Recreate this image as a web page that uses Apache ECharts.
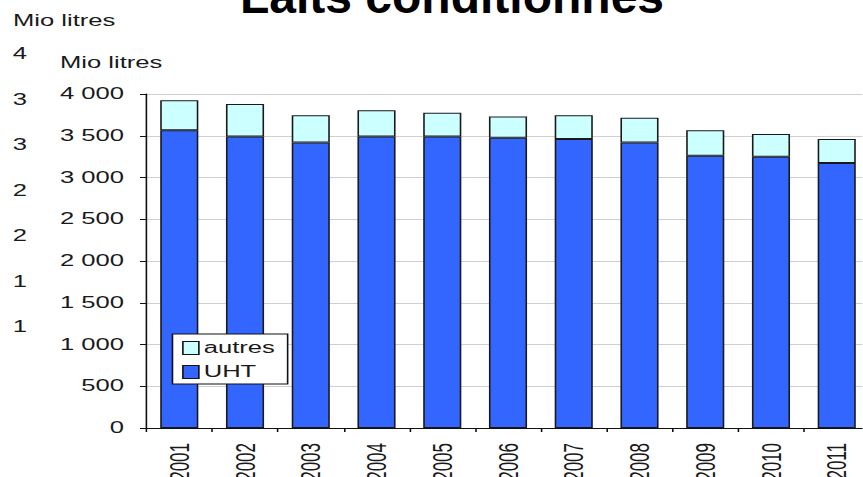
<!DOCTYPE html>
<html>
<head>
<meta charset="utf-8">
<script src="https://cdn.jsdelivr.net/npm/echarts@6/dist/echarts.min.js"></script>
<style>
html,body{margin:0;padding:0;background:#fff;overflow:hidden;width:863px;height:477px;}
#main{width:539.4px;height:477px;transform:scaleX(1.6);transform-origin:0 0;}
</style>
</head>
<body>
<div id="main"></div>
<script>
// ---- data ----
var years = ['2001','2002','2003','2004','2005','2006','2007','2008','2009','2010','2011'];
var uht = [3565, 3490, 3420, 3490, 3490, 3475, 3460, 3420, 3260, 3250, 3175];
var autres = [360, 390, 325, 315, 285, 255, 285, 295, 305, 270, 285];
var seriesNames = ['UHT', 'autres'];
var titleText = 'Laits conditionnés';
var unitText = 'Mio litres';

var FONT = '"Liberation Sans", Arial, sans-serif';
var SX = 1.6;
function fmt(v){ return String(v).replace(/\B(?=(\d{3})+(?!\d))/g, ' '); }

var chart = echarts.init(document.getElementById('main'), null, {renderer:'svg'});
chart.setOption({
  animation:false,
  backgroundColor:'#fff',
  graphic:[
    {type:'text', x:452/SX, y:-3.5, scaleX:1/SX, z:10,
     style:{text:titleText, x:0, y:0, align:'center', verticalAlign:'middle',
            fontFamily:FONT, fontSize:48, fontWeight:'bold', fill:'#000'}},
    {type:'text', x:13/SX, y:21,
     style:{text:unitText, align:'left', verticalAlign:'middle', fontFamily:FONT, fontSize:16, fill:'#1a1a1a'}},
    {type:'text', x:60/SX, y:62.5,
     style:{text:unitText, align:'left', verticalAlign:'middle', fontFamily:FONT, fontSize:16, fill:'#1a1a1a'}}
  ],
  grid:[
    {left:91.5, top:94, width:452, height:334, containLabel:false, outerBoundsMode:'none'},
    {left:30, top:54, width:1, height:364, containLabel:false, outerBoundsMode:'none'}
  ],
  legend:{
    orient:'vertical', left:107.8, top:334,
    data:['autres','UHT'],
    backgroundColor:'#fff', borderColor:'#111', borderWidth:1, borderRadius:0,
    padding:[6,8,4,6], itemGap:8, itemWidth:10, itemHeight:13,
    icon:'rect',
    itemStyle:{borderColor:'#111', borderWidth:1},
    textStyle:{fontFamily:FONT, fontSize:16, color:'#1a1a1a', padding:[0,0,0,-2]}
  },
  xAxis:[
    {type:'category', gridIndex:0, data:years, boundaryGap:true,
     axisLine:{show:true, lineStyle:{color:'#111', width:1}},
     axisTick:{show:true, length:4, interval:0, lineStyle:{color:'#111'}},
     axisLabel:{rotate:90, margin:15, interval:0, fontFamily:FONT, fontSize:17, color:'#1a1a1a'},
     splitLine:{show:false}},
    {type:'category', gridIndex:1, data:[''], show:false}
  ],
  yAxis:[
    {type:'value', gridIndex:0, min:0, max:4000, interval:500,
     axisLine:{show:true, lineStyle:{color:'#111', width:1}},
     axisTick:{show:true, length:4, lineStyle:{color:'#111'}},
     axisLabel:{margin:14, fontFamily:FONT, fontSize:16, color:'#1a1a1a', formatter:fmt},
     splitLine:{show:true, lineStyle:{color:'#d0d0d0', width:1}}},
    {type:'value', gridIndex:1, min:0, max:4000, interval:500,
     axisLine:{show:false}, axisTick:{show:false}, splitLine:{show:false},
     axisLabel:{margin:22, align:'left', fontFamily:FONT, fontSize:16, color:'#1a1a1a',
       formatter:function(v){ return v >= 1000 ? fmt(v).charAt(0) : ''; }}}
  ],
  series:[
    {name:seriesNames[0], type:'bar', stack:'t', xAxisIndex:0, yAxisIndex:0, data:uht, barWidth:'58%',
     itemStyle:{color:'#3366FF', borderColor:'#1a1a1a', borderWidth:1}},
    {name:seriesNames[1], type:'bar', stack:'t', xAxisIndex:0, yAxisIndex:0, data:autres, barWidth:'58%',
     itemStyle:{color:'#CCFFFF', borderColor:'#1a1a1a', borderWidth:1}}
  ]
});
</script>
</body>
</html>
